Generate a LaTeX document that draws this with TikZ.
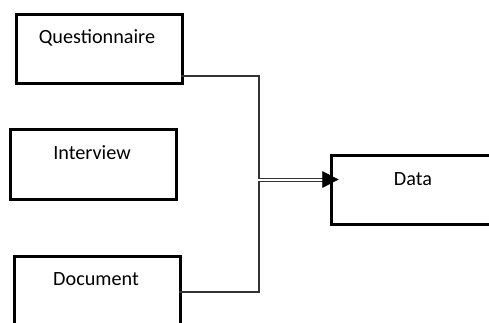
\documentclass[tikz,border=0pt]{standalone}
\usepackage{fontspec}
\setmainfont{Carlito}
\usetikzlibrary{arrows.meta,calc}
\begin{document}
\begin{tikzpicture}[x=1pt,y=-1pt,
  box/.style={draw, line width=2.8pt, inner sep=0pt, anchor=north west},
  lbl/.style={font=\fontsize{20.2}{23}\selectfont, inner sep=0pt},
  conn/.style={draw=black!80, line width=1.2pt},
  headstyle/.style={fill=black, draw=black, line width=0.5pt, line join=miter}]
\useasboundingbox (0,0) rectangle (489,322);
\clip (0,0) rectangle (489,322);
% boxes
\node[box, minimum width=166pt, minimum height=69pt] (q) at (15,13) {};
\node[box, minimum width=166pt, minimum height=70pt] (i) at (9,128) {};
\node[box, minimum width=166pt, minimum height=90pt] (d) at (13,255) {};
\node[box, minimum width=180pt, minimum height=69pt] (da) at (330,154) {};
% labels
\node[lbl] (qt) at (97,38) {Questionnaire};
\node[lbl] (it) at (92,153) {Interview};
\node[lbl] (dt) at (96,279) {Document};
\node[lbl] (dat) at (413,179) {Data};
% connector points
\coordinate (qo) at (181,76);
\coordinate (jq) at (259,76);
\coordinate (jq2) at (259,178.5);
\coordinate (do) at (179,292);
\coordinate (jd) at (259,292);
\coordinate (jd2) at (259,181.8);
\coordinate (tq) at (324,178.5);
\coordinate (td) at (324,181.8);
\coordinate (tip) at (338,179.5);
\draw[conn] (do) -- (jd) -- (jd2) -- (td);
\draw[conn] (qo) -- (jq) -- (jq2) -- (tq);
\path[headstyle] (tip) -- ($(tip)+(-15.5,-8)$) -- ($(tip)+(-15.5,8)$) -- cycle;
\end{tikzpicture}
\end{document}
